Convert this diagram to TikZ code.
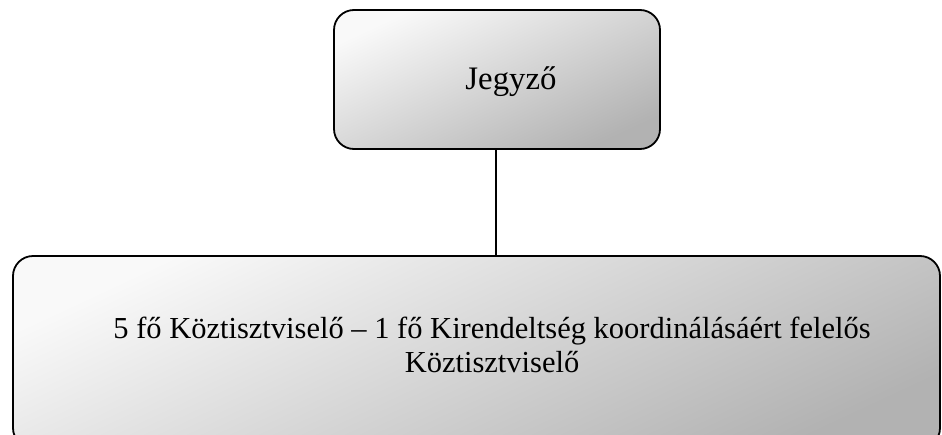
\documentclass[tikz,border=0pt]{standalone}
\usepackage{fontspec}
\setmainfont{Liberation Serif}
\begin{document}
\begin{tikzpicture}[x=1pt,y=-1pt,
  box/.style={draw=black, line width=1.8pt, rounded corners=20pt,
    top color=gray!5, bottom color=gray!60, shading angle=25},
  conn/.style={draw=black, line width=1.8pt}]
\useasboundingbox (0,0) rectangle (942,434);
\path[box] (334,10) rectangle (660,149);
\path[box] (13,256) rectangle (940,448);
\node[font=\fontsize{32.8}{36}\selectfont, anchor=base] (top) at (511,89) {Jegyző};
\node[font=\fontsize{30.5}{34}\selectfont, align=center, anchor=base] (bot) at (492,372)
  {5 fő Köztisztviselő – 1 fő Kirendeltség koordinálásáért felelős\\Köztisztviselő};
\coordinate (t) at (496,149);
\coordinate (b) at (496,256);
\draw[conn] (t) -- (b);
\end{tikzpicture}
\end{document}
